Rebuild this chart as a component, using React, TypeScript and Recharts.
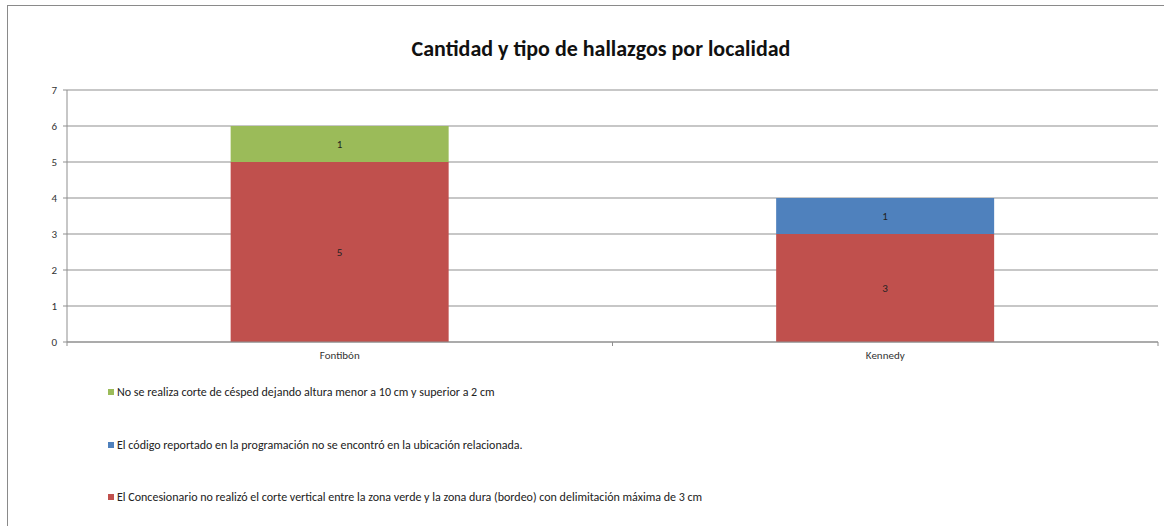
import React from 'react';
import { BarChart, Bar, XAxis, YAxis, CartesianGrid, LabelList } from 'recharts';

const categories = ['Fontibón', 'Kennedy'];
const concesionario = [5, 3];
const codigo = [null, 1];
const cesped = [1, null];
const yTicks = [0, 1, 2, 3, 4, 5, 6, 7];

const title = 'Cantidad y tipo de hallazgos por localidad';

const seriesList = [
  { key: 'concesionario', name: 'El Concesionario no realizó el corte vertical entre la zona verde y la zona dura (bordeo) con delimitación máxima de 3 cm', color: '#C0504D' },
  { key: 'codigo', name: 'El código reportado en la programación no se encontró en la ubicación relacionada.', color: '#4F81BD' },
  { key: 'cesped', name: 'No se realiza corte de césped dejando altura menor a 10 cm y superior a 2 cm', color: '#9BBB59' },
];

const data = categories.map((c, i) => ({
  name: c,
  concesionario: concesionario[i],
  codigo: codigo[i],
  cesped: cesped[i],
}));

const FONT = "Carlito, 'Liberation Sans Narrow', 'Open Sans', sans-serif";
const GRID = '#8f8f8f';

const XTick = (props: any) => {
  const { x, y, payload } = props;
  const off = payload && payload.offset ? payload.offset : 0;
  return (
    <g>
      <line x1={x - off} y1={y - 8} x2={x - off} y2={y - 4} stroke={GRID} />
      <line x1={x + off} y1={y - 8} x2={x + off} y2={y - 4} stroke={GRID} />
      <text x={x} y={y + 9} textAnchor="middle" fontSize={11} fill="#333" fontFamily={FONT}>
        {payload.value}
      </text>
    </g>
  );
};

const labelFmt = (v: any) => (v === null || v === undefined ? '' : v);

export default function App() {
  const legendRows = [...seriesList].reverse();
  return (
    <div style={{ position: 'absolute', left: 0, top: 0, width: 1164, height: 526, background: '#fff', overflow: 'hidden', fontFamily: FONT }}>
      <div style={{ position: 'absolute', left: 7, top: 5, width: 2000, height: 1000, borderLeft: '1px solid #8a8a8a', borderTop: '1px solid #8a8a8a' }} />
      <div style={{ position: 'absolute', left: 0, width: 1202, top: 35, textAlign: 'center', fontSize: 22, fontWeight: 'bold', color: '#111', lineHeight: '28px' }}>
        {title}
      </div>
      <div style={{ position: 'absolute', left: 0, top: 0 }}>
        <BarChart width={1164} height={526} data={data} margin={{ top: 90, right: 6, bottom: 154, left: 0 }} barCategoryGap="30%">
          <CartesianGrid horizontal vertical={false} stroke={GRID} />
          <XAxis dataKey="name" tick={<XTick />} tickLine={false} axisLine={{ stroke: GRID }} height={30} interval={0} />
          <YAxis domain={[0, 7]} ticks={yTicks} width={67} tickSize={4} tickMargin={6} axisLine={{ stroke: GRID }} tickLine={{ stroke: GRID }} tick={{ fontSize: 11, fill: '#333', fontFamily: FONT }} interval={0} />
          {seriesList.map((s) => (
            <Bar key={s.key} dataKey={s.key} name={s.name} stackId="a" fill={s.color} isAnimationActive={false}>
              <LabelList dataKey={s.key} position="center" fontSize={11} fill="#222" fontFamily={FONT} formatter={labelFmt} />
            </Bar>
          ))}
        </BarChart>
      </div>
      {legendRows.map((s, i) => (
        <div key={s.key} style={{ position: 'absolute', left: 108, top: [385, 438, 490][i], height: 14, display: 'flex', alignItems: 'center', fontSize: 12, color: '#222', whiteSpace: 'nowrap' }}>
          <span style={{ display: 'inline-block', width: 6, height: 6, background: s.color, marginRight: 3 }} />
          <span>{s.name}</span>
        </div>
      ))}
    </div>
  );
}
